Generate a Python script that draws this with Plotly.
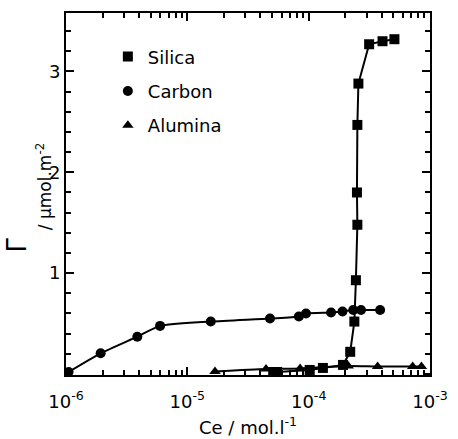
import plotly.graph_objects as go

# ---- data ----
silica_ce = [5.1e-5, 5.5e-5, 1.02e-4, 1.31e-4, 1.92e-4, 2.2e-4, 2.38e-4, 2.45e-4,
             2.52e-4, 2.5e-4, 2.52e-4, 2.57e-4, 3.15e-4, 4.06e-4, 5.09e-4]
silica_g = [0.02, 0.02, 0.04, 0.06, 0.09, 0.22, 0.52, 0.93,
            1.48, 1.80, 2.47, 2.88, 3.27, 3.30, 3.32]

carbon_ce = [1.05e-6, 1.93e-6, 3.87e-6, 5.96e-6, 1.56e-5, 4.8e-5, 8.3e-5, 9.5e-5,
             1.53e-4, 1.9e-4, 2.33e-4, 2.7e-4, 3.88e-4]
carbon_g = [0.02, 0.205, 0.37, 0.477, 0.52, 0.55, 0.57, 0.60,
            0.61, 0.62, 0.635, 0.635, 0.635]

alumina_ce = [1.69e-5, 4.45e-5, 8.5e-5, 2.12e-4, 3.7e-4, 7.2e-4, 8.5e-4]
alumina_g = [0.025, 0.05, 0.055, 0.08, 0.075, 0.075, 0.075]

x_tickvals = [1e-6, 1e-5, 1e-4, 1e-3]
x_ticktext = ["10<sup>-6</sup>", "10<sup>-5</sup>", "10<sup>-4</sup>", "10<sup>-3</sup>"]
x_minor = [m * 10.0 ** e for e in (-6, -5, -4) for m in range(2, 10)]
y_tickvals = [1, 2, 3]

FONT = "DejaVu Sans"
series = [
    ("Silica", silica_ce, silica_g, "square", "linear"),
    ("Carbon", carbon_ce, carbon_g, "circle", "spline"),
    ("Alumina", alumina_ce, alumina_g, "triangle-up", "spline"),
]

fig = go.Figure()
for name, xs, ys, sym, shape in series:
    fig.add_trace(go.Scatter(
        x=xs, y=ys, mode="lines", showlegend=False,
        line=dict(color="black", width=2, shape=shape, smoothing=0.6),
        hoverinfo="skip"))
for name, xs, ys, sym, shape in series:
    fig.add_trace(go.Scatter(
        x=xs, y=ys, mode="markers", name=name, legendgroup=name,
        marker=dict(symbol=sym, size=10, color="black")))

# y-axis label: a large Gamma plus the unit text
fig.add_annotation(text="Γ", xref="paper", yref="paper", x=-0.135, y=0.36,
                   xanchor="center", yanchor="middle", textangle=-90, showarrow=False,
                   font=dict(family=FONT, size=26, color="black"))
fig.add_annotation(text="/ μmol.m<sup>-2</sup>", xref="paper", yref="paper",
                   x=-0.062, y=0.52, xanchor="center", yanchor="middle",
                   textangle=-90, showarrow=False,
                   font=dict(family=FONT, size=17, color="black"))
# x-axis label
fig.add_annotation(text="Ce / mol.l<sup>-1</sup>", xref="paper", yref="paper",
                   x=0.5, y=-0.142, xanchor="center", yanchor="middle", borderpad=0,
                   showarrow=False, font=dict(family=FONT, size=18, color="black"))

axis_common = dict(showline=True, linecolor="black", linewidth=2, mirror="ticks",
                   ticks="inside", tickcolor="black", tickwidth=2, showgrid=False,
                   zeroline=False, automargin=False,
                   tickfont=dict(family=FONT, size=18, color="black"))

fig.update_xaxes(type="log", range=[-6, -3], tickmode="array",
                 tickvals=x_tickvals, ticktext=x_ticktext, ticklen=8,
                 ticklabelstandoff=9,
                 minor=dict(tickmode="array", tickvals=x_minor, ticks="inside",
                            ticklen=5, tickcolor="black", tickwidth=1.5, showgrid=False),
                 **axis_common)
fig.update_yaxes(range=[-0.01, 3.58], tickmode="array", tickvals=y_tickvals, ticklen=8,
                 minor=dict(dtick=0.2, tick0=0, ticks="inside", ticklen=5,
                            tickcolor="black", tickwidth=1.5, showgrid=False),
                 **axis_common)

fig.update_layout(
    width=458, height=439,
    margin=dict(l=66, r=28, t=13, b=64),
    plot_bgcolor="white", paper_bgcolor="white",
    legend=dict(x=0.115, y=0.93, xanchor="left", yanchor="top",
                bgcolor="rgba(0,0,0,0)", tracegroupgap=8, itemwidth=30,
                font=dict(family=FONT, size=18, color="black")),
)

fig.write_html("out.html")
